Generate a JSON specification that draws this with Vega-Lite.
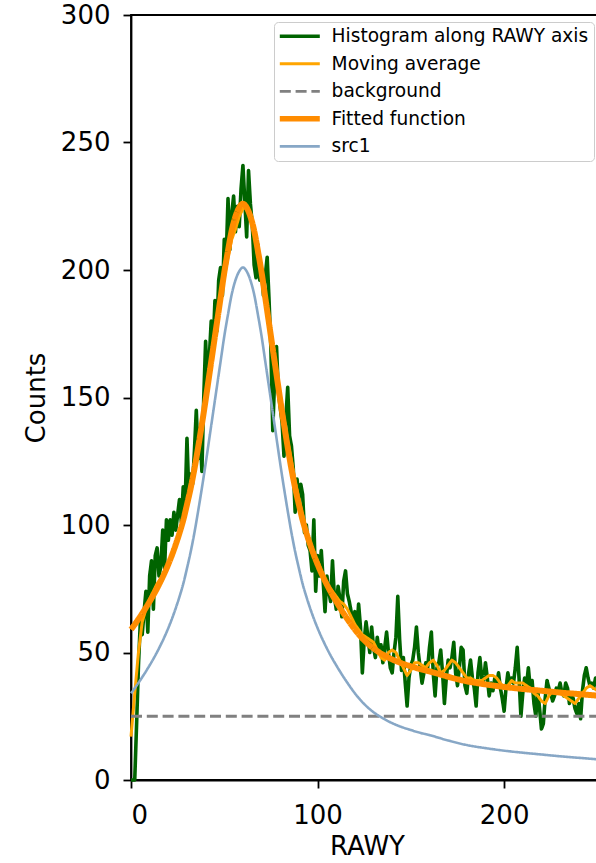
{
  "$schema": "https://vega.github.io/schema/vega-lite/v6.json",
  "width": 472,
  "height": 765,
  "autosize": {"type": "none"},
  "padding": {"left": 131, "top": 15, "right": -7, "bottom": 83},
  "background": "white",
  "config": {
    "view": {"stroke": "black", "strokeWidth": 1.8},
    "font": "DejaVu Sans",
    "axis": {
      "grid": false,
      "labelFont": "DejaVu Sans",
      "labelFontSize": 26,
      "labelColor": "black",
      "titleFont": "DejaVu Sans",
      "titleFontSize": 26,
      "titleFontWeight": "normal",
      "titleColor": "black",
      "domainColor": "black",
      "domainWidth": 1.8,
      "tickColor": "black",
      "tickWidth": 1.8,
      "tickSize": 8
    },
    "legend": {
      "orient": "none",
      "symbolType": "M-4,0H4",
      "symbolSize": 100,
      "symbolOffset": 11.5,
      "symbolStrokeWidth": {"expr": "datum.value === 'Fitted function' ? 5.6 : datum.value === 'Histogram along RAWY axis' ? 3.4 : datum.value === 'Moving average' ? 3 : 2.7"},
      "labelFont": "DejaVu Sans",
      "labelFontSize": 18.6,
      "labelColor": "black",
      "labelOffset": 22.5,
      "labelLimit": 400,
      "fillColor": "white",
      "strokeColor": "#cccccc",
      "cornerRadius": 4,
      "padding": 5,
      "rowPadding": 8.5
    },
    "line": {"strokeJoin": "round", "clip": true}
  },
  "datasets": {
    "hist": [
      {"x":0,"y":0},{"x":1,"y":0},{"x":2,"y":0},{"x":3,"y":22},{"x":4,"y":45},{"x":5,"y":62},{"x":6,"y":57},{"x":7,"y":66},{"x":8,"y":74},{"x":9,"y":58},
      {"x":10,"y":80},{"x":11,"y":86},{"x":12,"y":67},{"x":13,"y":88},{"x":14,"y":91},{"x":15,"y":80},{"x":16,"y":84},{"x":17,"y":98},{"x":18,"y":83},{"x":19,"y":102},
      {"x":20,"y":94},{"x":21,"y":102},{"x":22,"y":96},{"x":23,"y":105},{"x":24,"y":98},{"x":25,"y":104},{"x":26,"y":110},{"x":27,"y":101},{"x":28,"y":115},{"x":29,"y":108},
      {"x":30,"y":134},{"x":31,"y":112},{"x":32,"y":120},{"x":33,"y":116},{"x":34,"y":129},{"x":35,"y":145},{"x":36,"y":126},{"x":37,"y":138},{"x":38,"y":121},{"x":39,"y":150},
      {"x":40,"y":172},{"x":41,"y":155},{"x":42,"y":166},{"x":43,"y":180},{"x":44,"y":170},{"x":45,"y":188},{"x":46,"y":176},{"x":47,"y":196},{"x":48,"y":201},{"x":49,"y":190},
      {"x":50,"y":212},{"x":51,"y":204},{"x":52,"y":228},{"x":53,"y":208},{"x":54,"y":222},{"x":55,"y":229},{"x":56,"y":215},{"x":57,"y":225},{"x":58,"y":217},{"x":59,"y":232},
      {"x":60,"y":241},{"x":61,"y":227},{"x":62,"y":213},{"x":63,"y":239},{"x":64,"y":226},{"x":65,"y":218},{"x":66,"y":202},{"x":67,"y":197},{"x":68,"y":210},{"x":69,"y":196},
      {"x":70,"y":200},{"x":71,"y":190},{"x":72,"y":198},{"x":73,"y":205},{"x":74,"y":188},{"x":75,"y":169},{"x":76,"y":137},{"x":77,"y":158},{"x":78,"y":170},{"x":79,"y":152},
      {"x":80,"y":146},{"x":81,"y":140},{"x":82,"y":127},{"x":83,"y":142},{"x":84,"y":154},{"x":85,"y":135},{"x":86,"y":131},{"x":87,"y":122},{"x":88,"y":105},{"x":89,"y":118},
      {"x":90,"y":110},{"x":91,"y":116},{"x":92,"y":112},{"x":93,"y":97},{"x":94,"y":100},{"x":95,"y":92},{"x":96,"y":90},{"x":97,"y":82},{"x":98,"y":102},{"x":99,"y":74},
      {"x":100,"y":88},{"x":101,"y":80},{"x":102,"y":90},{"x":103,"y":78},{"x":104,"y":66},{"x":105,"y":80},{"x":106,"y":74},{"x":107,"y":70},{"x":108,"y":86},{"x":109,"y":72},
      {"x":110,"y":67},{"x":111,"y":76},{"x":112,"y":71},{"x":113,"y":64},{"x":114,"y":78},{"x":115,"y":82},{"x":116,"y":73},{"x":117,"y":70},{"x":118,"y":66},{"x":119,"y":63},
      {"x":120,"y":66},{"x":121,"y":58},{"x":122,"y":69},{"x":123,"y":60},{"x":124,"y":42},{"x":125,"y":55},{"x":126,"y":62},{"x":127,"y":56},{"x":128,"y":50},{"x":129,"y":60},
      {"x":130,"y":52},{"x":131,"y":48},{"x":132,"y":56},{"x":133,"y":50},{"x":134,"y":53},{"x":135,"y":46},{"x":136,"y":52},{"x":137,"y":58},{"x":138,"y":50},{"x":139,"y":44},
      {"x":140,"y":42},{"x":141,"y":50},{"x":142,"y":56},{"x":143,"y":72},{"x":144,"y":55},{"x":145,"y":43},{"x":146,"y":48},{"x":147,"y":38},{"x":148,"y":29},{"x":149,"y":40},
      {"x":150,"y":45},{"x":151,"y":47},{"x":152,"y":52},{"x":153,"y":60},{"x":154,"y":50},{"x":155,"y":44},{"x":156,"y":38},{"x":157,"y":42},{"x":158,"y":46},{"x":159,"y":44},
      {"x":160,"y":52},{"x":161,"y":58},{"x":162,"y":42},{"x":163,"y":33},{"x":164,"y":44},{"x":165,"y":46},{"x":166,"y":51},{"x":167,"y":42},{"x":168,"y":30},{"x":169,"y":40},
      {"x":170,"y":47},{"x":171,"y":44},{"x":172,"y":48},{"x":173,"y":54},{"x":174,"y":42},{"x":175,"y":37},{"x":176,"y":44},{"x":177,"y":52},{"x":178,"y":51},{"x":179,"y":37},
      {"x":180,"y":34},{"x":181,"y":42},{"x":182,"y":47},{"x":183,"y":40},{"x":184,"y":36},{"x":185,"y":29},{"x":186,"y":42},{"x":187,"y":48},{"x":188,"y":40},{"x":189,"y":39},
      {"x":190,"y":46},{"x":191,"y":40},{"x":192,"y":33},{"x":193,"y":38},{"x":194,"y":35},{"x":195,"y":40},{"x":196,"y":37},{"x":197,"y":42},{"x":198,"y":36},{"x":199,"y":32},
      {"x":200,"y":27},{"x":201,"y":36},{"x":202,"y":42},{"x":203,"y":38},{"x":204,"y":40},{"x":205,"y":38},{"x":206,"y":44},{"x":207,"y":52},{"x":208,"y":40},{"x":209,"y":25},
      {"x":210,"y":34},{"x":211,"y":40},{"x":212,"y":37},{"x":213,"y":44},{"x":214,"y":36},{"x":215,"y":39},{"x":216,"y":30},{"x":217,"y":25},{"x":218,"y":35},{"x":219,"y":28},
      {"x":220,"y":20},{"x":221,"y":22},{"x":222,"y":32},{"x":223,"y":39},{"x":224,"y":36},{"x":225,"y":34},{"x":226,"y":31},{"x":227,"y":33},{"x":228,"y":36},{"x":229,"y":35},
      {"x":230,"y":38},{"x":231,"y":34},{"x":232,"y":33},{"x":233,"y":38},{"x":234,"y":36},{"x":235,"y":30},{"x":236,"y":34},{"x":237,"y":32},{"x":238,"y":28},{"x":239,"y":26},
      {"x":240,"y":30},{"x":241,"y":24},{"x":242,"y":35},{"x":243,"y":41},{"x":244,"y":44},{"x":245,"y":40},{"x":246,"y":37},{"x":247,"y":38},{"x":248,"y":36},{"x":249,"y":40},
      {"x":250,"y":38}
    ],
    "movingAverage": [
      {"x":0,"y":17},{"x":2,"y":34},{"x":4,"y":50},{"x":6,"y":62},{"x":8,"y":67},{"x":10,"y":71},{"x":12,"y":74},{"x":14,"y":77},{"x":16,"y":79},{"x":18,"y":82},
      {"x":20,"y":85},{"x":22,"y":88},{"x":24,"y":92},{"x":26,"y":96},{"x":28,"y":101},{"x":30,"y":107},{"x":32,"y":114},{"x":34,"y":121},{"x":36,"y":130},{"x":38,"y":139},
      {"x":40,"y":148},{"x":42,"y":158},{"x":44,"y":168},{"x":46,"y":178},{"x":48,"y":188},{"x":50,"y":197},{"x":52,"y":205},{"x":54,"y":212},{"x":56,"y":216},{"x":58,"y":221},
      {"x":60,"y":224},{"x":62,"y":225},{"x":64,"y":222},{"x":66,"y":216},{"x":68,"y":208},{"x":70,"y":199},{"x":72,"y":190},{"x":74,"y":180},{"x":76,"y":170},{"x":78,"y":160},
      {"x":80,"y":151},{"x":82,"y":142},{"x":84,"y":133},{"x":86,"y":125},{"x":88,"y":117},{"x":90,"y":110},{"x":92,"y":104},{"x":94,"y":98},{"x":96,"y":93},{"x":98,"y":89},
      {"x":100,"y":86},{"x":102,"y":82},{"x":104,"y":79},{"x":106,"y":76},{"x":108,"y":74},{"x":110,"y":72},{"x":112,"y":70},{"x":114,"y":69},{"x":116,"y":67},{"x":118,"y":64},
      {"x":120,"y":61},{"x":122,"y":59},{"x":124,"y":57},{"x":126,"y":56},{"x":128,"y":55},{"x":130,"y":54},{"x":132,"y":51},{"x":134,"y":48},{"x":136,"y":47},{"x":138,"y":50},
      {"x":140,"y":51},{"x":142,"y":50},{"x":144,"y":47},{"x":146,"y":44},{"x":148,"y":41},{"x":150,"y":43},{"x":152,"y":46},{"x":154,"y":46},{"x":156,"y":45},{"x":158,"y":44},
      {"x":160,"y":46},{"x":162,"y":47},{"x":164,"y":45},{"x":166,"y":42},{"x":168,"y":43},{"x":170,"y":45},{"x":172,"y":47},{"x":174,"y":46},{"x":176,"y":44},{"x":178,"y":42},
      {"x":180,"y":40},{"x":182,"y":40},{"x":184,"y":39},{"x":186,"y":39},{"x":188,"y":39},{"x":190,"y":40},{"x":192,"y":41},{"x":194,"y":41},{"x":196,"y":40},{"x":198,"y":38},
      {"x":200,"y":36},{"x":202,"y":37},{"x":204,"y":39},{"x":206,"y":38},{"x":208,"y":38},{"x":210,"y":38},{"x":212,"y":37},{"x":214,"y":36},{"x":216,"y":34},{"x":218,"y":33},
      {"x":220,"y":31},{"x":222,"y":30},{"x":224,"y":33},{"x":226,"y":35},{"x":228,"y":34},{"x":230,"y":34},{"x":232,"y":33},{"x":234,"y":32},{"x":236,"y":31},{"x":238,"y":30},
      {"x":240,"y":32},{"x":242,"y":34},{"x":244,"y":36},{"x":246,"y":37},{"x":248,"y":36},{"x":250,"y":35}
    ],
    "background": [
      {"x":0,"y":25},{"x":253,"y":25}
    ],
    "fit": [
      {"x":0,"y":59},{"x":2,"y":61},{"x":4,"y":63.1},{"x":6,"y":65.3},{"x":8,"y":67.6},{"x":10,"y":70},{"x":12,"y":72.5},{"x":14,"y":75.2},{"x":16,"y":78.1},{"x":18,"y":81.2},
      {"x":20,"y":84.6},{"x":22,"y":88.3},{"x":24,"y":92.4},{"x":26,"y":96.9},{"x":28,"y":101.9},{"x":30,"y":108},{"x":32,"y":114.5},{"x":34,"y":122},{"x":36,"y":130.5},{"x":38,"y":139.5},
      {"x":40,"y":149},{"x":42,"y":159},{"x":44,"y":169},{"x":46,"y":179},{"x":48,"y":189},{"x":50,"y":199},{"x":52,"y":207.6},{"x":54,"y":215.5},{"x":56,"y":221},{"x":58,"y":224.5},
      {"x":60,"y":226},{"x":62,"y":224.5},{"x":64,"y":221},{"x":66,"y":215.5},{"x":68,"y":207.6},{"x":70,"y":199},{"x":72,"y":189},{"x":74,"y":179},{"x":76,"y":169},{"x":78,"y":159},
      {"x":80,"y":149},{"x":82,"y":139.5},{"x":84,"y":130.5},{"x":86,"y":122},{"x":88,"y":114.5},{"x":90,"y":108},{"x":92,"y":101.9},{"x":94,"y":96.9},{"x":96,"y":92.4},{"x":98,"y":88.3},
      {"x":100,"y":84.6},{"x":102,"y":81.2},{"x":104,"y":78.1},{"x":106,"y":75.2},{"x":108,"y":72.5},{"x":110,"y":70},{"x":112,"y":67.6},{"x":114,"y":65.3},{"x":116,"y":63.1},{"x":118,"y":61},
      {"x":120,"y":59},{"x":125,"y":54.8},{"x":130,"y":51.6},{"x":135,"y":49.2},{"x":140,"y":47.3},{"x":145,"y":45.8},{"x":150,"y":44.6},{"x":155,"y":43.5},{"x":160,"y":42.6},{"x":170,"y":40.5},
      {"x":180,"y":38.7},{"x":190,"y":37.5},{"x":200,"y":36.5},{"x":210,"y":35.7},{"x":220,"y":35},{"x":230,"y":34.3},{"x":240,"y":33.7},{"x":250,"y":33.1}
    ],
    "src1": [
      {"x":0,"y":34},{"x":2,"y":36},{"x":4,"y":38.1},{"x":6,"y":40.3},{"x":8,"y":42.6},{"x":10,"y":45},{"x":12,"y":47.5},{"x":14,"y":50.2},{"x":16,"y":53.1},{"x":18,"y":56.2},
      {"x":20,"y":59.6},{"x":22,"y":63.3},{"x":24,"y":67.4},{"x":26,"y":71.9},{"x":28,"y":76.9},{"x":30,"y":83},{"x":32,"y":89.5},{"x":34,"y":97},{"x":36,"y":105.5},{"x":38,"y":114.5},
      {"x":40,"y":124},{"x":42,"y":134},{"x":44,"y":144},{"x":46,"y":154},{"x":48,"y":164},{"x":50,"y":174},{"x":52,"y":182.6},{"x":54,"y":190.5},{"x":56,"y":196},{"x":58,"y":199.5},
      {"x":60,"y":201},{"x":62,"y":199.5},{"x":64,"y":196},{"x":66,"y":190.5},{"x":68,"y":182.6},{"x":70,"y":174},{"x":72,"y":164},{"x":74,"y":154},{"x":76,"y":144},{"x":78,"y":134},
      {"x":80,"y":124},{"x":82,"y":114.5},{"x":84,"y":105.5},{"x":86,"y":97},{"x":88,"y":89.5},{"x":90,"y":83},{"x":92,"y":76.9},{"x":94,"y":71.9},{"x":96,"y":67.4},{"x":98,"y":63.3},
      {"x":100,"y":59.6},{"x":102,"y":56.2},{"x":104,"y":53.1},{"x":106,"y":50.2},{"x":108,"y":47.5},{"x":110,"y":45},{"x":112,"y":42.6},{"x":114,"y":40.3},{"x":116,"y":38.1},{"x":118,"y":36},
      {"x":120,"y":34},{"x":125,"y":29.8},{"x":130,"y":26.6},{"x":135,"y":24.2},{"x":140,"y":22.3},{"x":145,"y":20.8},{"x":150,"y":19.6},{"x":155,"y":18.5},{"x":160,"y":17.6},{"x":170,"y":15.5},
      {"x":180,"y":13.7},{"x":190,"y":12.5},{"x":200,"y":11.5},{"x":210,"y":10.7},{"x":220,"y":10},{"x":230,"y":9.3},{"x":240,"y":8.7},{"x":250,"y":8.1}
    ]
  },
  "encoding": {
    "x": {
      "field": "x",
      "type": "quantitative",
      "scale": {"domain": [0, 253], "nice": false, "zero": false},
      "axis": {"values": [0, 100, 200], "title": "RAWY", "labelPadding": 14, "titlePadding": 5}
    },
    "y": {
      "field": "y",
      "type": "quantitative",
      "scale": {"domain": [0, 300], "nice": false},
      "axis": {"values": [0, 50, 100, 150, 200, 250, 300], "title": "Counts", "labelPadding": 13, "titlePadding": 11}
    }
  },
  "layer": [
    {
      "data": {"name": "hist"},
      "mark": {"type": "line", "strokeWidth": 3.6},
      "encoding": {
        "color": {
          "datum": "Histogram along RAWY axis",
          "type": "ordinal",
          "scale": {
            "type": "ordinal",
            "domain": ["Histogram along RAWY axis", "Moving average", "background", "Fitted function", "src1"],
            "range": ["#006400", "#FFA500", "#808080", "#FF8C00", "#87A7C6"]
          },
          "legend": {"title": null, "orient": "none", "legendX": 143, "legendY": 7}
        },
        "strokeDash": {
          "datum": "Histogram along RAWY axis",
          "type": "ordinal",
          "scale": {
            "type": "ordinal",
            "domain": ["Histogram along RAWY axis", "Moving average", "background", "Fitted function", "src1"],
            "range": [[1, 0], [1, 0], [11, 4.8], [1, 0], [1, 0]]
          },
          "legend": {"title": null, "orient": "none", "legendX": 143, "legendY": 7}
        }
      }
    },
    {
      "data": {"name": "movingAverage"},
      "mark": {"type": "line", "strokeWidth": 3},
      "encoding": {
        "color": {"datum": "Moving average", "type": "ordinal"},
        "strokeDash": {"datum": "Moving average", "type": "ordinal"}
      }
    },
    {
      "data": {"name": "background"},
      "mark": {"type": "line", "strokeWidth": 2.8},
      "encoding": {
        "color": {"datum": "background", "type": "ordinal"},
        "strokeDash": {"datum": "background", "type": "ordinal"}
      }
    },
    {
      "data": {"name": "fit"},
      "mark": {"type": "line", "strokeWidth": 6, "interpolate": "monotone"},
      "encoding": {
        "color": {"datum": "Fitted function", "type": "ordinal"},
        "strokeDash": {"datum": "Fitted function", "type": "ordinal"}
      }
    },
    {
      "data": {"name": "src1"},
      "mark": {"type": "line", "strokeWidth": 2.6, "interpolate": "monotone"},
      "encoding": {
        "color": {"datum": "src1", "type": "ordinal"},
        "strokeDash": {"datum": "src1", "type": "ordinal"}
      }
    }
  ]
}
